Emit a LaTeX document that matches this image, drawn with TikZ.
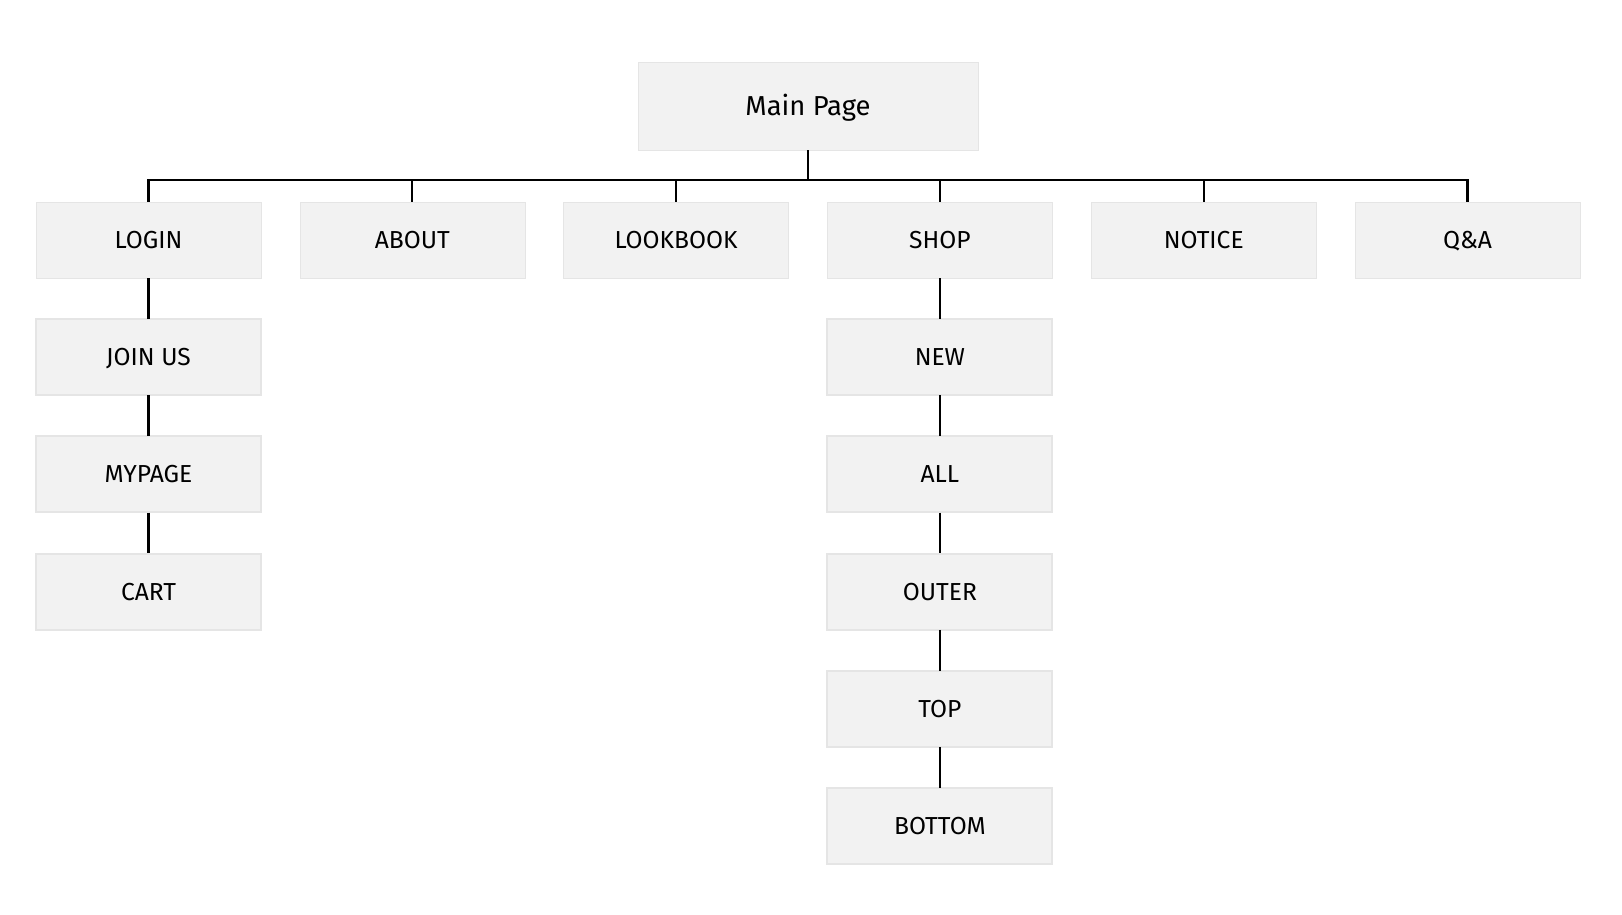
\documentclass[tikz,border=0pt]{standalone}
\usepackage{fontspec}
\setmainfont{Fira Sans}
\definecolor{boxfill}{RGB}{242,242,242}
\tikzset{
  pagenode/.style = {rectangle, align=center, inner sep=0pt, text centered, fill=boxfill, draw=black!10,
    minimum width=5.625cm, minimum height=1.9cm, text height=12.2pt, text depth=0pt,
    font=\fontsize{17.5}{20}\selectfont},
  mainnode/.style = {pagenode, minimum width=8.5cm, minimum height=2.2cm, text height=13.4pt,
    font=\fontsize{19.5}{22}\selectfont},
  edge from parent/.style={draw=black, line width=1.5pt},
  edge from parent path={(\tikzparentnode.south) -- ++(0,-0.75) -| (\tikzchildnode.north)}
}

\begin{document}
\begin{tikzpicture}[level/.style={sibling distance = 6.595cm,
  level distance = 2.93cm}, level 1/.style={level distance = 3.35cm}]

\useasboundingbox (0,0) rectangle (40.55,-22.85);

\node (main) [mainnode] at (20.2,-2.65) {Main Page}
child{ node (login) [pagenode] {LOGIN}
  child{ node (join) [pagenode] {JOIN US}
    child{ node (mypage) [pagenode] {MYPAGE}
      child{ node (cart) [pagenode] {CART}}
    }
  }
}
child{ node (about) [pagenode] {ABOUT}}
child{ node (lookbook) [pagenode] {LOOKBOOK}}
child{ node (shop) [pagenode] {SHOP}
  child{ node (new) [pagenode] {NEW}
    child{ node (all) [pagenode] {ALL}
      child{ node (outer) [pagenode] {OUTER}
        child{ node (top) [pagenode] {TOP}
          child{ node (bottom) [pagenode] {BOTTOM}}
        }
      }
    }
  }
}
child{ node (notice) [pagenode] {NOTICE}}
child{ node (qna) [pagenode] {Q\&A}};
\end{tikzpicture}
\end{document}
